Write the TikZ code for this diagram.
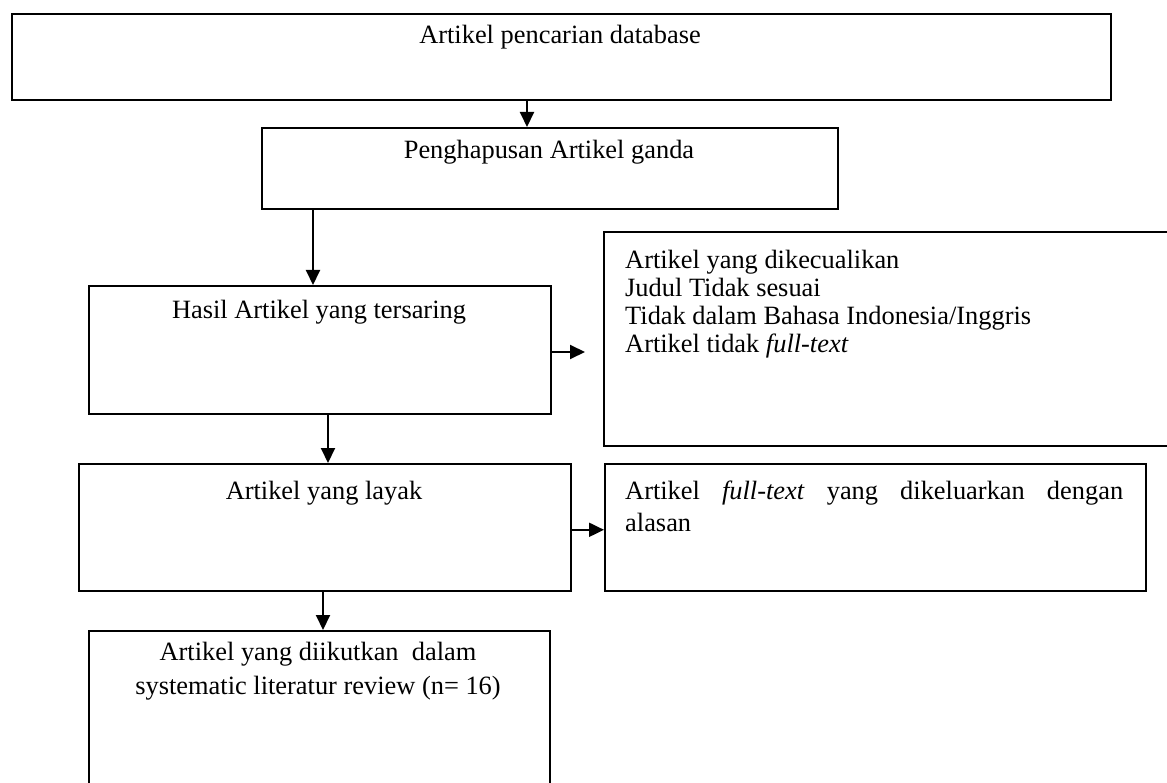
\documentclass[tikz,border=0pt]{standalone}
\usepackage{fontspec}
\setmainfont{Liberation Serif}
\usetikzlibrary{arrows.meta}
\begin{document}
\begin{tikzpicture}[x=1pt,y=-1pt,
  box/.style={draw=black, line width=1.8pt, inner sep=0pt, anchor=north west, fill=none},
  lbl/.style={inner sep=0pt, font=\fontsize{26.4}{28}\selectfont},
  arr/.style={line width=2pt, -{Triangle[length=15pt,width=14pt]}}]
\clip (0,0) rectangle (1167,783);
\fill[white] (0,0) rectangle (1167,783);
% boxes
\node[box, minimum width=1099pt, minimum height=86pt]  (b1) at (11,13) {};
\node[box, minimum width=576pt,  minimum height=81pt]  (b2) at (261,127) {};
\node[box, minimum width=462pt,  minimum height=128pt] (b3) at (88,285) {};
\node[box, minimum width=590pt,  minimum height=214pt] (b4) at (603,231) {};
\node[box, minimum width=492pt,  minimum height=127pt] (b5) at (78,463) {};
\node[box, minimum width=541pt,  minimum height=127pt] (b6) at (604,463) {};
\node[box, minimum width=461pt,  minimum height=175pt] (b7) at (88,630) {};
% texts
\node[lbl, anchor=base] (t1) at (560,44) {Artikel pencarian database};
\node[lbl, anchor=base] (t2) at (549,159) {Penghapusan Artikel ganda};
\node[lbl, anchor=base] (t3) at (319,319) {Hasil Artikel yang tersaring};
\node[lbl, anchor=north west, align=left] (t4) at (625,250)
  {Artikel yang dikecualikan\\Judul Tidak sesuai\\Tidak dalam Bahasa Indonesia/Inggris\\Artikel tidak \textit{full-text}};
\node[lbl, anchor=base] (t5) at (324,499) {Artikel yang layak};
\node[lbl, anchor=north west, align=left, font=\fontsize{26.4}{32}\selectfont] (t6) at (625,481)
  {\makebox[498pt][s]{Artikel \textit{full-text} yang dikeluarkan dengan}\\alasan};
\node[lbl, anchor=north, align=center, font=\fontsize{26.4}{34}\selectfont] (t7) at (318,642)
  {Artikel yang diikutkan\ \ dalam\\systematic literatur review (n= 16)};
% connectors
\coordinate (e3) at (585,352);
\draw[arr] ([xshift=516pt]b1.south west) -- ([xshift=516pt]b1.south west |- b2.north);
\draw[arr] ([xshift=52pt]b2.south west) -- ([xshift=52pt]b2.south west |- b3.north);
\draw[arr] (b3.east |- e3) -- (e3);
\draw[arr] ([xshift=240pt]b3.south west) -- ([xshift=240pt]b3.south west |- b5.north);
\draw[arr] ([yshift=62pt]b5.south east) -- ([yshift=62pt]b5.south east -| b6.west);
\draw[arr] ([xshift=245pt]b5.south west) -- ([xshift=245pt]b5.south west |- b7.north);
\end{tikzpicture}
\end{document}
